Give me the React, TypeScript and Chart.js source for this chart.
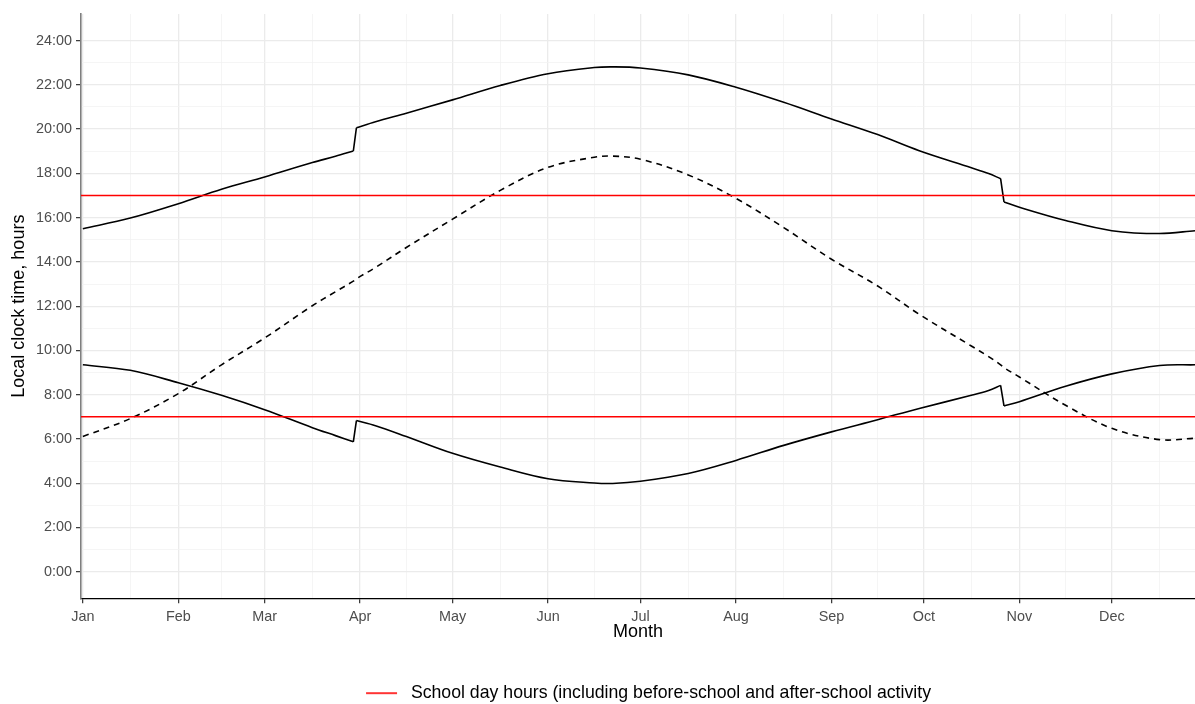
import React, { useEffect, useRef } from "react";
import { Chart, registerables } from "chart.js";

Chart.register(...registerables);

// Day of year (0 = 1 January)
const days = [0, 15.4, 31, 45, 59, 74.5, 82, 87.8, 88.8, 95, 105, 120, 135.5, 151, 166, 172, 181, 196.5, 212, 227.5, 243, 258, 271.5, 288.4, 294, 297.9, 299, 304, 319, 334, 349.5, 361];

// Sunset, local clock time (hours)
const sunset = [15.5, 15.98, 16.63, 17.28, 17.84, 18.49, 18.77, 19.01, 20.06, 20.33, 20.72, 21.32, 21.97, 22.5, 22.78, 22.81, 22.76, 22.45, 21.89, 21.21, 20.46, 19.75, 19.02, 18.25, 17.99, 17.76, 16.71, 16.47, 15.87, 15.41, 15.28, 15.41];

// Sunrise, local clock time (hours)
const sunrise = [9.35, 9.1, 8.54, 7.97, 7.32, 6.51, 6.15, 5.87, 6.83, 6.6, 6.11, 5.35, 4.73, 4.2, 4.01, 3.99, 4.09, 4.44, 5.03, 5.71, 6.32, 6.87, 7.38, 7.97, 8.19, 8.42, 7.49, 7.68, 8.38, 8.94, 9.32, 9.35];

// Day length (hours), dashed
const dayLength = [6.11, 6.92, 8.05, 9.35, 10.56, 12.02, 12.65, 13.13, 13.24, 13.75, 14.65, 15.93, 17.23, 18.27, 18.73, 18.78, 18.64, 17.93, 16.87, 15.55, 14.12, 12.91, 11.63, 10.2, 9.72, 9.35, 9.22, 8.8, 7.52, 6.48, 5.97, 6.03];

// Indices in `days` where the daylight-saving clock change starts
const clockChangeIdx = [7, 25];

// School day hours
const schoolStart = 7;
const schoolEnd = 17;
const schoolLabel = "School day hours (including before-school and after-school activity";

// Axes
const monthLabels = ["Jan", "Feb", "Mar", "Apr", "May", "Jun", "Jul", "Aug", "Sep", "Oct", "Nov", "Dec"];
const monthStartDays = [0, 31, 59, 90, 120, 151, 181, 212, 243, 273, 304, 334];
const midMonthDays = [15.5, 45, 74.5, 105, 135.5, 166, 196.5, 227.5, 258, 288.5, 319, 349.5];
const hourTicks = [0, 1, 2, 3, 4, 5, 6, 7, 8, 9, 10, 11, 12, 13, 14, 15, 16, 17, 18, 19, 20, 21, 22, 23, 24];
const xMin = -0.6;
const xMax = 361;
const yMin = -1.2;
const yMax = 25.2;

const FONT = "'Liberation Sans', Arial, Helvetica, sans-serif";

export default function App() {
  const ref = useRef<HTMLCanvasElement | null>(null);

  useEffect(() => {
    document.body.style.overflow = "hidden";
    const canvas = ref.current;
    if (!canvas) return;

    // legend key: red segment with some space around it
    const icon = document.createElement("canvas");
    icon.width = 57;
    icon.height = 4;
    const ictx = icon.getContext("2d");
    if (ictx) {
      ictx.strokeStyle = "#ff0000";
      ictx.lineWidth = 1.6;
      ictx.beginPath();
      ictx.moveTo(21, 2);
      ictx.lineTo(52, 2);
      ictx.stroke();
    }

    // Smooth pieces, with the clock change drawn as a straight step
    const withSteps = (vals: number[]) => {
      const out: { x: number; y: number | null }[] = [];
      for (let i = 0; i < days.length; i++) {
        out.push({ x: days[i], y: vals[i] });
        if (clockChangeIdx.indexOf(i) >= 0 && i + 1 < days.length) {
          out.push({ x: days[i], y: null });
          out.push({ x: days[i], y: vals[i] });
          out.push({ x: days[i + 1], y: vals[i + 1] });
          out.push({ x: days[i + 1], y: null });
        }
      }
      return out;
    };
    const pts = (vals: number[]) => days.map((d, i) => ({ x: d, y: vals[i] }));
    const hline = (v: number) => [
      { x: xMin, y: v },
      { x: xMax, y: v },
    ];

    const xTicks = [...monthStartDays, ...midMonthDays].sort((a, b) => a - b);
    const isMonth = (v: number) => monthStartDays.indexOf(v) >= 0;

    const common = { borderColor: "#000000", borderWidth: 1.6, pointRadius: 0, fill: false, tension: 0.35, spanGaps: false };

    const chart = new Chart(canvas, {
      type: "line",
      data: {
        datasets: [
          { label: schoolLabel, data: hline(schoolEnd), borderColor: "#ff0000", backgroundColor: "#ff0000", borderWidth: 1.6, pointRadius: 0, fill: false },
          { label: "school start", data: hline(schoolStart), borderColor: "#ff0000", backgroundColor: "#ff0000", borderWidth: 1.6, pointRadius: 0, fill: false },
          { label: "Sunset", data: withSteps(sunset), ...common },
          { label: "Sunrise", data: withSteps(sunrise), ...common },
          { label: "Day length", data: pts(dayLength), ...common, borderDash: [6, 5] },
        ] as any,
      },
      options: {
        animation: false,
        responsive: true,
        maintainAspectRatio: false,
        layout: { padding: { top: 14, left: 0, right: 0, bottom: 0 } },
        plugins: {
          tooltip: { enabled: false },
          legend: {
            position: "bottom",
            fullSize: false,
            labels: {
              filter: (item: any) => item.datasetIndex === 0,
              usePointStyle: true,
              pointStyle: icon as any,
              pointStyleWidth: 57,
              color: "#000000",
              font: { family: FONT, size: 17.7 },
              padding: 10,
            },
          },
        },
        scales: {
          x: {
            type: "linear",
            min: xMin,
            max: xMax,
            afterBuildTicks: (s: any) => {
              s.ticks = xTicks.map((v) => ({ value: v }));
            },
            afterFit: (s: any) => {
              s.height = 76;
              s.paddingLeft = 0;
              s.paddingRight = 0;
            },
            ticks: {
              autoSkip: false,
              maxRotation: 0,
              minRotation: 0,
              padding: 5,
              color: "#4d4d4d",
              font: { family: FONT, size: 14.4 },
              callback: (v: any) => {
                const i = monthStartDays.indexOf(Number(v));
                return i >= 0 ? monthLabels[i] : "";
              },
            },
            grid: {
              color: (c: any) => (c.tick && isMonth(c.tick.value) ? "#ebebeb" : "#f3f3f3"),
              lineWidth: (c: any) => (c.tick && isMonth(c.tick.value) ? 1.3 : 0.8),
              tickColor: (c: any) => (c.tick && isMonth(c.tick.value) ? "#333333" : "rgba(0,0,0,0)"),
              tickLength: 5,
              tickWidth: 1.2,
            },
            border: { color: "#000000", width: 1.2 },
            title: {
              display: true,
              text: "Month",
              color: "#000000",
              font: { family: FONT, size: 18 },
              padding: { top: 0, bottom: 31 },
            },
          },
          y: {
            type: "linear",
            min: yMin,
            max: yMax,
            afterBuildTicks: (s: any) => {
              s.ticks = hourTicks.map((v) => ({ value: v }));
            },
            afterFit: (s: any) => {
              s.width = 81;
              s.paddingTop = 0;
              s.paddingBottom = 0;
            },
            ticks: {
              autoSkip: false,
              padding: 4,
              color: "#4d4d4d",
              font: { family: FONT, size: 14.4 },
              callback: (v: any) => (Number(v) % 2 === 0 ? `${v}:00` : ""),
            },
            grid: {
              color: (c: any) => (c.tick && c.tick.value % 2 === 0 ? "#ebebeb" : "#f3f3f3"),
              lineWidth: (c: any) => (c.tick && c.tick.value % 2 === 0 ? 1.3 : 0.8),
              tickColor: (c: any) => (c.tick && c.tick.value % 2 === 0 ? "#333333" : "rgba(0,0,0,0)"),
              tickLength: 5,
              tickWidth: 1.2,
            },
            border: { color: "#7f7f7f", width: 1.6 },
            title: {
              display: true,
              text: "Local clock time, hours",
              color: "#000000",
              font: { family: FONT, size: 18 },
              padding: { top: 8, bottom: 0 },
            },
          },
        },
      } as any,
    });

    return () => {
      chart.destroy();
    };
  }, []);

  return (
    <div style={{ position: "fixed", left: 0, top: 0, width: 1195, height: 712, background: "#ffffff" }}>
      <canvas ref={ref} />
    </div>
  );
}
